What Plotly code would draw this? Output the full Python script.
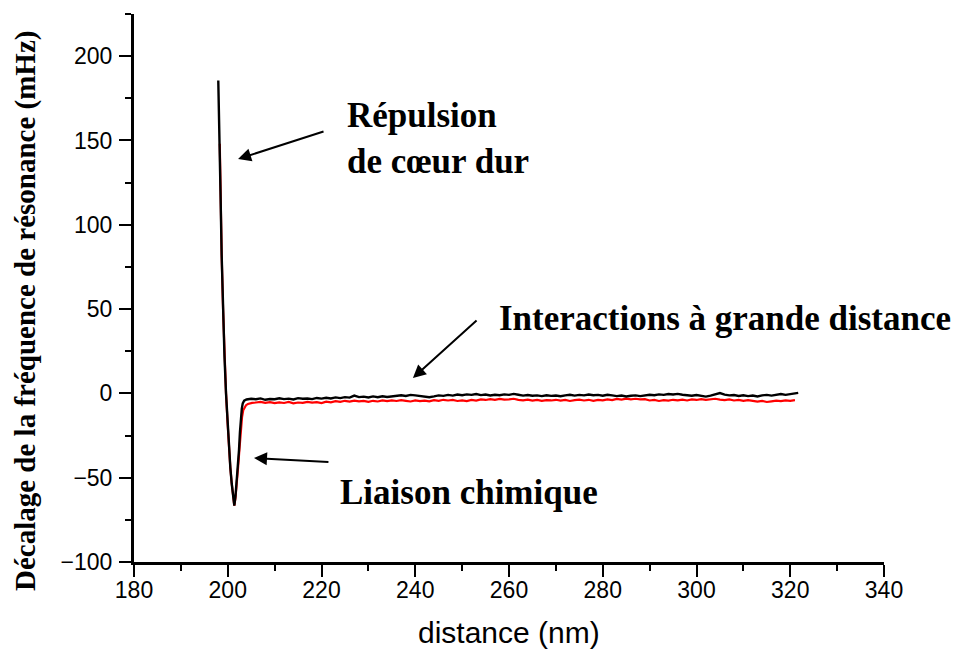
import plotly.graph_objects as go

# steep part of the curves
black_steep_x = [197.98, 198.2, 198.45, 198.7, 199.0, 199.3, 199.63, 199.95, 200.27, 200.55,
                 200.84, 201.1, 201.4, 201.65, 201.9, 202.15, 202.4, 202.6, 202.8, 203.0,
                 203.2, 203.5]
black_steep_y = [185.6, 160, 120, 82, 50, 22, 0, -17, -33.6, -44,
                 -53.3, -61, -66.5, -61, -53.3, -43, -33.6, -23, -13.8, -9,
                 -5.9, -4.3]

red_steep_x = [198.3, 198.45, 198.7, 199.0, 199.3, 199.63, 199.95, 200.27, 200.55, 200.84,
               201.1, 201.4, 201.65, 201.9, 202.2, 202.5, 202.8, 203.05, 203.3, 203.6,
               203.9, 204.3, 204.7, 205.2]
red_steep_y = [148, 120, 82, 50, 22, 0, -17, -33.6, -44, -53.3,
               -61, -66.5, -62, -55, -44, -33, -22, -14, -10, -8,
               -7, -6.3, -5.9, -5.6]

# flat tail, 1 nm steps
black_flat_x = [204, 205, 206, 207, 208, 209, 210, 211, 212, 213, 214, 215, 216, 217, 218, 219,
                220, 221, 222, 223, 224, 225, 226, 227, 228, 229, 230, 231, 232, 233, 234, 235,
                236, 237, 238, 239, 240, 241, 242, 243, 244, 245, 246, 247, 248, 249, 250, 251,
                252, 253, 254, 255, 256, 257, 258, 259, 260, 261, 262, 263, 264, 265, 266, 267,
                268, 269, 270, 271, 272, 273, 274, 275, 276, 277, 278, 279, 280, 281, 282, 283,
                284, 285, 286, 287, 288, 289, 290, 291, 292, 293, 294, 295, 296, 297, 298, 299,
                300, 301, 302, 303, 304, 305, 306, 307, 308, 309, 310, 311, 312, 313, 314, 315,
                316, 317, 318, 319, 320, 321, 321.7]
black_flat_y = [-3.6, -3.2, -3.5, -3.0, -3.8, -3.3, -3.5, -2.9, -3.4, -3.1, -3.6, -2.8, -3.2, -3.0,
                -3.4, -2.7, -3.1, -2.6, -3.0, -2.4, -2.8, -2.2, -2.5, -1.3, -2.2, -1.9, -2.4, -1.8,
                -2.3, -1.7, -2.1, -1.9, -1.4, -1.1, -1.5, -0.9, -1.2, -1.6, -2.1, -2.3, -1.8, -1.2,
                -1.5, -0.9, -1.3, -0.7, -1.1, -0.6, -0.9, -0.4, -1.0, -0.7, -1.2, -0.8, -1.1, -0.6,
                -0.9, -0.3, -0.8, -1.3, -1.0, -1.4, -1.2, -1.6, -1.1, -1.5, -1.3, -1.7, -1.2, -0.8,
                -1.3, -0.9, -1.2, -0.7, -1.1, -0.9, -1.4, -0.8, -1.2, -1.6, -1.3, -1.8, -1.4, -1.2,
                -1.6, -1.0, -0.8, -1.1, -0.6, -0.9, -0.4, -0.7, -0.3, -0.8, -1.1, -1.4, -1.0, -1.6,
                -1.9, -1.3, -0.6, 0.2, -0.7, -1.2, -1.0, -1.5, -1.1, -1.6, -1.3, -1.8, -1.2, -0.9,
                -1.3, -0.8, -0.4, -0.9, -0.3, 0.1, 0.3]

red_flat_x = [206, 207, 208, 209, 210, 211, 212, 213, 214, 215, 216, 217, 218, 219, 220, 221,
              222, 223, 224, 225, 226, 227, 228, 229, 230, 231, 232, 233, 234, 235, 236, 237,
              238, 239, 240, 241, 242, 243, 244, 245, 246, 247, 248, 249, 250, 251, 252, 253,
              254, 255, 256, 257, 258, 259, 260, 261, 262, 263, 264, 265, 266, 267, 268, 269,
              270, 271, 272, 273, 274, 275, 276, 277, 278, 279, 280, 281, 282, 283, 284, 285,
              286, 287, 288, 289, 290, 291, 292, 293, 294, 295, 296, 297, 298, 299, 300, 301,
              302, 303, 304, 305, 306, 307, 308, 309, 310, 311, 312, 313, 314, 315, 316, 317,
              318, 319, 320, 321]
red_flat_y = [-5.4, -5.0, -5.6, -5.2, -5.8, -5.3, -5.7, -5.1, -5.9, -5.4, -5.6, -5.0, -5.5, -5.2,
              -5.7, -4.9, -5.3, -4.6, -5.0, -4.4, -4.9, -4.3, -4.7, -4.5, -5.0, -4.4, -4.8, -4.2,
              -4.6, -4.1, -4.5, -4.0, -4.4, -4.8, -4.2, -4.6, -4.3, -4.7, -4.0, -4.4, -3.8, -4.2,
              -3.9, -4.5, -4.1, -4.6, -3.9, -4.3, -3.6, -3.9, -3.4, -3.8, -3.3, -3.7, -3.5, -3.2,
              -3.8, -4.1, -3.7, -4.3, -3.9, -4.4, -4.0, -4.2, -3.8, -4.3, -3.9, -4.5, -4.0, -3.7,
              -4.2, -3.8, -4.4, -3.9, -4.1, -3.6, -4.0, -3.3, -3.7, -3.1, -3.5, -3.2, -3.6, -3.4,
              -4.2, -3.9, -4.5, -4.0, -4.3, -3.8, -4.1, -3.7, -4.2, -3.6, -3.9, -3.4, -3.8, -3.5,
              -3.2, -3.7, -4.0, -3.6, -4.2, -3.9, -4.4, -4.0, -4.6, -4.9, -4.5, -5.1, -4.7, -4.3,
              -4.6, -4.1, -4.4, -4.0]

x_ticks = [180, 200, 220, 240, 260, 280, 300, 320, 340]
y_ticks = [-100, -50, 0, 50, 100, 150, 200]

red_x = red_steep_x + red_flat_x
red_y = red_steep_y + red_flat_y
black_x = black_steep_x + black_flat_x
black_y = black_steep_y + black_flat_y

SERIF = "Liberation Serif, Times New Roman, serif"
SANS = "Liberation Sans, Arial, sans-serif"

fig = go.Figure()
fig.add_trace(go.Scatter(x=red_x, y=red_y, mode="lines",
                         line=dict(color="#ff0000", width=2.2), showlegend=False))
fig.add_trace(go.Scatter(x=black_x, y=black_y, mode="lines",
                         line=dict(color="#000000", width=2.4), showlegend=False))

axis_common = dict(
    showline=True, linecolor="black", linewidth=3, mirror=False,
    showgrid=False, zeroline=False,
    ticks="outside", ticklen=12, tickwidth=2, tickcolor="black",
    tickfont=dict(family=SANS, size=23, color="black"),
)
fig.update_xaxes(range=[180, 340], tickvals=x_ticks, ticklabelstandoff=-7,
                 minor=dict(ticks="outside", ticklen=6, tickwidth=2, tickcolor="black", dtick=10),
                 **axis_common)
fig.update_yaxes(range=[-100, 225], tickvals=y_ticks, ticklabelstandoff=2,
                 minor=dict(ticks="outside", ticklen=6, tickwidth=2, tickcolor="black", dtick=25,
                            tick0=0),
                 **axis_common)

text_font = dict(family=SERIF, size=35, color="black")
arrow_style = dict(showarrow=True, arrowhead=2, arrowsize=1.3, arrowwidth=2, arrowcolor="black",
                   axref="x", ayref="y", text="")
fig.add_annotation(x=202.2, y=139.0, ax=220.75, ay=155.6, **arrow_style)
fig.add_annotation(x=239.5, y=9.1, ax=253.4, ay=44.1, **arrow_style)
fig.add_annotation(x=205.6, y=-38.3, ax=221.8, ay=-40.7, **arrow_style)

fig.add_annotation(x=225.0, y=151.2, text="<b>Répulsion<br>de cœur dur</b>", showarrow=False,
                   xanchor="left", yanchor="middle", align="left", font=text_font)
fig.add_annotation(x=257.4, y=44.7, text="<b>Interactions à grande distance</b>", showarrow=False,
                   xanchor="left", yanchor="middle", font=text_font)
fig.add_annotation(x=223.5, y=-58.5, text="<b>Liaison chimique</b>", showarrow=False,
                   xanchor="left", yanchor="middle", font=text_font)

fig.add_annotation(xref="paper", yref="paper", x=-0.1453, y=0.458, textangle=-90,
                   text="<b>Décalage de la fréquence de résonance (mHz)</b>", showarrow=False,
                   xanchor="center", yanchor="middle",
                   font=dict(family=SERIF, size=29, color="black"))
fig.add_annotation(xref="paper", yref="paper", x=0.5, y=-0.128, text="distance (nm)",
                   showarrow=False, xanchor="center", yanchor="middle",
                   font=dict(family=SANS, size=30, color="black"))

# the page body adds an 8 px offset, so margins are trimmed by that amount
fig.update_layout(
    width=961, height=660,
    margin=dict(l=126, r=85, t=6, b=106),
    paper_bgcolor="white", plot_bgcolor="white",
    showlegend=False,
)

fig.write_html("out.html")
